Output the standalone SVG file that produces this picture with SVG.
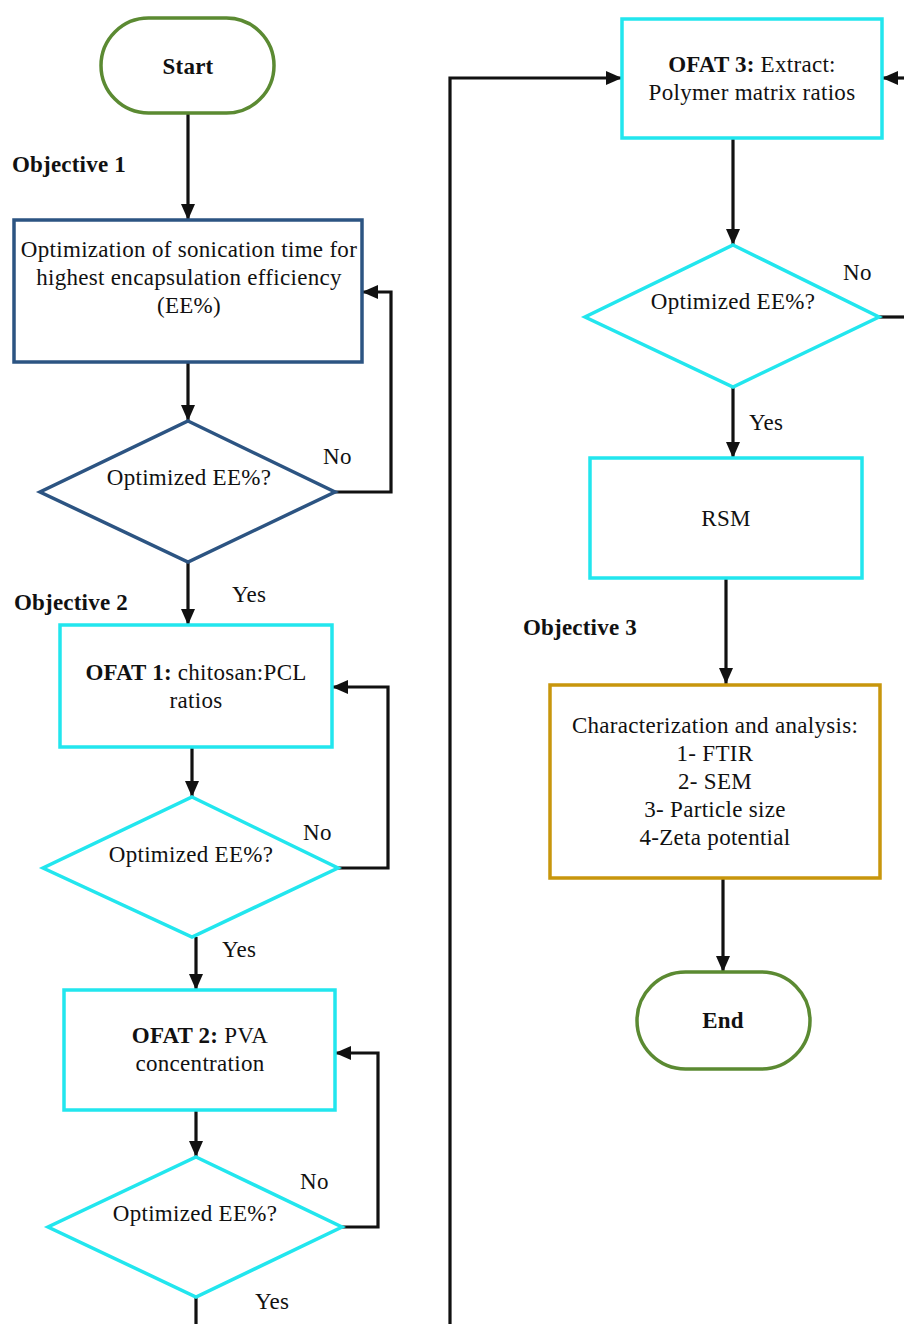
<svg xmlns="http://www.w3.org/2000/svg" width="904" height="1324" viewBox="0 0 904 1324" font-family="'Liberation Serif', Tinos, 'Times New Roman', 'DejaVu Serif', serif">
<style>
text{font-family:'Liberation Serif',Tinos,'Times New Roman','DejaVu Serif',serif;font-size:23px;letter-spacing:0.3px;fill:#111}
.b{font-weight:bold;letter-spacing:0.2px}
.c{text-anchor:middle}
.term{fill:#fff;stroke:#5b8a32;stroke-width:3.5}
.blue{fill:#fff;stroke:#2c5482;stroke-width:3.5}
.cyan{fill:#fff;stroke:#22e6ee;stroke-width:3.5}
.gold{fill:#fff;stroke:#c8960c;stroke-width:3.5}
.con{fill:none;stroke:#111;stroke-width:3.2}
</style>
<defs>
<marker id="ah" viewBox="0 0 16 14" refX="16" refY="7" markerWidth="16" markerHeight="14" markerUnits="userSpaceOnUse" orient="auto">
<path d="M0,0 L16,7 L0,14 z" fill="#111"/>
</marker>
</defs>
<rect width="904" height="1324" fill="#fff"/>

<g id="connectors">
<line class="con" x1="188" y1="113" x2="188" y2="220" marker-end="url(#ah)"/>
<line class="con" x1="188" y1="362" x2="188" y2="421" marker-end="url(#ah)"/>
<polyline class="con" points="335,492 391,492 391,292 362,292" marker-end="url(#ah)"/>
<line class="con" x1="188" y1="562" x2="188" y2="625" marker-end="url(#ah)"/>
<line class="con" x1="192" y1="747" x2="192" y2="797" marker-end="url(#ah)"/>
<polyline class="con" points="338,868 388,868 388,687 332,687" marker-end="url(#ah)"/>
<line class="con" x1="196" y1="937" x2="196" y2="990" marker-end="url(#ah)"/>
<line class="con" x1="196" y1="1110" x2="196" y2="1157" marker-end="url(#ah)"/>
<polyline class="con" points="342,1227 378,1227 378,1053 335,1053" marker-end="url(#ah)"/>
<line class="con" x1="196" y1="1297" x2="196" y2="1324"/>
<polyline class="con" points="450,1324 450,78 622,78" marker-end="url(#ah)"/>
<line class="con" x1="904" y1="78" x2="882" y2="78" marker-end="url(#ah)"/>
<line class="con" x1="879" y1="317" x2="904" y2="317"/>
<line class="con" x1="733" y1="138" x2="733" y2="245" marker-end="url(#ah)"/>
<line class="con" x1="733" y1="387" x2="733" y2="458" marker-end="url(#ah)"/>
<line class="con" x1="726" y1="578" x2="726" y2="684" marker-end="url(#ah)"/>
<line class="con" x1="723" y1="878" x2="723" y2="972" marker-end="url(#ah)"/>
<text x="323" y="464">No</text>
<text x="232" y="602">Yes</text>
<text x="303" y="840">No</text>
<text x="222" y="957">Yes</text>
<text x="300" y="1189">No</text>
<text x="255" y="1309">Yes</text>
<text x="843" y="280">No</text>
<text x="749" y="430">Yes</text>
</g>

<g id="labels">
<text class="b" x="12" y="172">Objective 1</text>
<text class="b" x="14" y="610">Objective 2</text>
<text class="b" x="523" y="635">Objective 3</text>
</g>

<g id="start">
<rect class="term" x="101" y="18" width="173" height="95" rx="47.5"/>
<text class="b c" x="188" y="74">Start</text>
</g>

<g id="sonication">
<rect class="blue" x="14" y="220" width="348" height="142"/>
<text class="c" x="189" y="257">Optimization of sonication time for</text>
<text class="c" x="189" y="285">highest encapsulation efficiency</text>
<text class="c" x="189" y="313">(EE%)</text>
</g>

<g id="decision1">
<polygon class="blue" points="188,421 335,492 188,562 40,492"/>
<text class="c" x="189" y="485">Optimized EE%?</text>
</g>

<g id="ofat1">
<rect class="cyan" x="60" y="625" width="272" height="122"/>
<text class="c" x="196" y="680"><tspan class="b">OFAT 1:</tspan> chitosan:PCL</text>
<text class="c" x="196" y="708">ratios</text>
</g>

<g id="decision2">
<polygon class="cyan" points="192,797 338,868 192,937 43,868"/>
<text class="c" x="191" y="862">Optimized EE%?</text>
</g>

<g id="ofat2">
<rect class="cyan" x="64" y="990" width="271" height="120"/>
<text class="c" x="200" y="1043"><tspan class="b">OFAT 2:</tspan> PVA</text>
<text class="c" x="200" y="1071">concentration</text>
</g>

<g id="decision3">
<polygon class="cyan" points="196,1157 342,1227 196,1297 48,1227"/>
<text class="c" x="195" y="1221">Optimized EE%?</text>
</g>

<g id="ofat3">
<rect class="cyan" x="622" y="19" width="260" height="119"/>
<text class="c" x="752" y="72"><tspan class="b">OFAT 3:</tspan> Extract:</text>
<text class="c" x="752" y="100">Polymer matrix ratios</text>
</g>

<g id="decision4">
<polygon class="cyan" points="733,245 879,317 733,387 585,317"/>
<text class="c" x="733" y="309">Optimized EE%?</text>
</g>

<g id="rsm">
<rect class="cyan" x="590" y="458" width="272" height="120"/>
<text class="c" x="726" y="526">RSM</text>
</g>

<g id="characterization">
<rect class="gold" x="550" y="685" width="330" height="193"/>
<text class="c" x="715" y="733">Characterization and analysis:</text>
<text class="c" x="715" y="761">1- FTIR</text>
<text class="c" x="715" y="789">2- SEM</text>
<text class="c" x="715" y="817">3- Particle size</text>
<text class="c" x="715" y="845">4-Zeta potential</text>
</g>

<g id="end">
<rect class="term" x="637" y="972" width="173" height="97" rx="48.5"/>
<text class="b c" x="723" y="1028">End</text>
</g>
</svg>
